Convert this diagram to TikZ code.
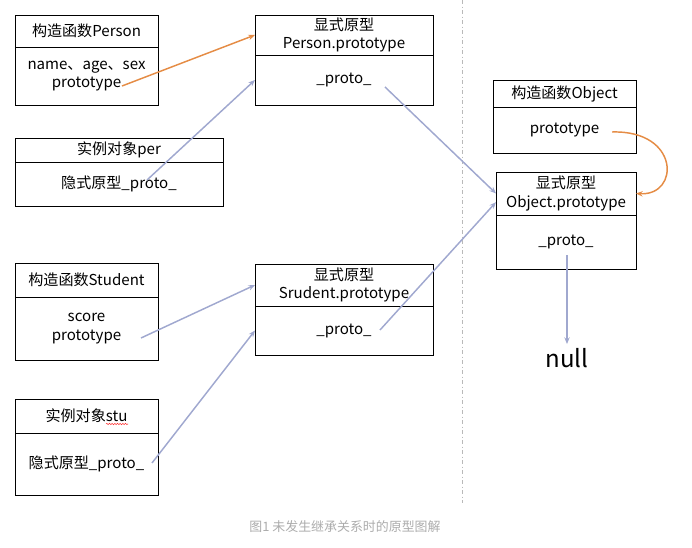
\documentclass[tikz,border=0pt]{standalone}
\usepackage{fontspec}
\setmainfont{Noto Sans CJK SC}
\usetikzlibrary{positioning,arrows.meta,decorations.pathmorphing}
\definecolor{linkblue}{HTML}{A0A8CF}
\definecolor{linkorange}{HTML}{E58C45}

\begin{document}
\begin{tikzpicture}[x=0.75pt, y=-0.75pt,
    font=\fontsize{11.3}{14}\selectfont,
    boxdim/.style 2 args={minimum width=#1*0.75pt, minimum height=#2*0.75pt},
    head/.style={draw, line width=0.7pt, rectangle, inner sep=0pt, outer sep=0pt,
        align=center, anchor=north west},
    body/.style={draw, line width=0.7pt, rectangle, inner sep=0pt, outer sep=0pt,
        align=center, below=0pt of #1},
    link/.style={draw=linkblue, line width=1.1pt, -{Stealth[length=5pt,width=4pt]}},
    ctorlink/.style={link, draw=linkorange},
    divider/.style={draw=gray!55, line width=0.5pt, dash dot}
    ]
    \useasboundingbox (0,0) rectangle (692,548);

    % Person side
    \node [head, boxdim={143}{32}] (pcons) at (15,15) {构造函数Person};
    \node [body=pcons, boxdim={143}{58}] (pconsb) {name、age、sex\\prototype};
    \node [head, boxdim={208}{24}] (per) at (15,138) {实例对象per};
    \node [body=per, boxdim={208}{44}] (perb) {隐式原型\_proto\_};
    \node [head, boxdim={178}{40}] (ppt) at (255,15) {显式原型\\Person.prototype};
    \node [body=ppt, boxdim={178}{50}] (pptb) {\_proto\_};

    % Student side
    \node [head, boxdim={143}{34}] (scons) at (15,263) {构造函数Student};
    \node [body=scons, boxdim={143}{63}] (sconsb) {score\\prototype};
    \node [head, boxdim={143}{34}] (stu) at (15,399) {实例对象stu};
    \node [body=stu, boxdim={143}{62}] (stub) {隐式原型\_proto\_};
    \node [head, boxdim={178}{42}] (spt) at (255,264) {显式原型\\Srudent.prototype};
    \node [body=spt, boxdim={178}{49}] (sptb) {\_proto\_};

    % Object side
    \node [head, boxdim={143}{27}] (ocons) at (493,80) {构造函数Object};
    \node [body=ocons, boxdim={143}{46}] (oconsb) {prototype};
    \node [head, boxdim={140}{43}] (opt) at (496,172) {显式原型\\Object.prototype};
    \node [body=opt, boxdim={140}{54}] (optb) {\_proto\_};
    \node [font=\fontsize{18}{20}\selectfont, inner sep=3pt] (null) at (567,358) {null};

    \draw [divider] (462,0) -- (462,503);
    % spell-check squiggle under stu
    \draw [red!80, line width=0.4pt, decorate,
        decoration={snake, amplitude=0.5pt, segment length=2pt}] (106,424) -- (128,424);

    % where the links leave the texts
    \coordinate (pconsout) at (122,86);
    \coordinate (perout) at (147,180);
    \coordinate (pptout) at (385,87);
    \coordinate (sconsout) at (141,338);
    \coordinate (stuout) at (152,463);
    \coordinate (sptout) at (380,330);
    \coordinate (oconsout) at (612,132);
    \coordinate (optout) at (567,255);

    \draw [ctorlink] (pconsout) -- (ppt.west);
    \draw [link] (perout) -- (pptb.west);
    \draw [link] (pptout) -- (opt.west);
    \draw [link] (sconsout) -- (spt.west);
    \draw [link] (stuout) -- (sptb.west);
    \draw [link] (sptout) -- ([yshift=-6.5pt]opt.west);
    \draw [ctorlink] (oconsout) .. controls (680,130) and (680,196) .. (opt.east);
    \draw [link] (optout) -- (null.north);

    \node [text=gray!65, font=\fontsize{9.7}{11}\selectfont] (caption) at (345,527)
        {图1 未发生继承关系时的原型图解};
\end{tikzpicture}
\end{document}
